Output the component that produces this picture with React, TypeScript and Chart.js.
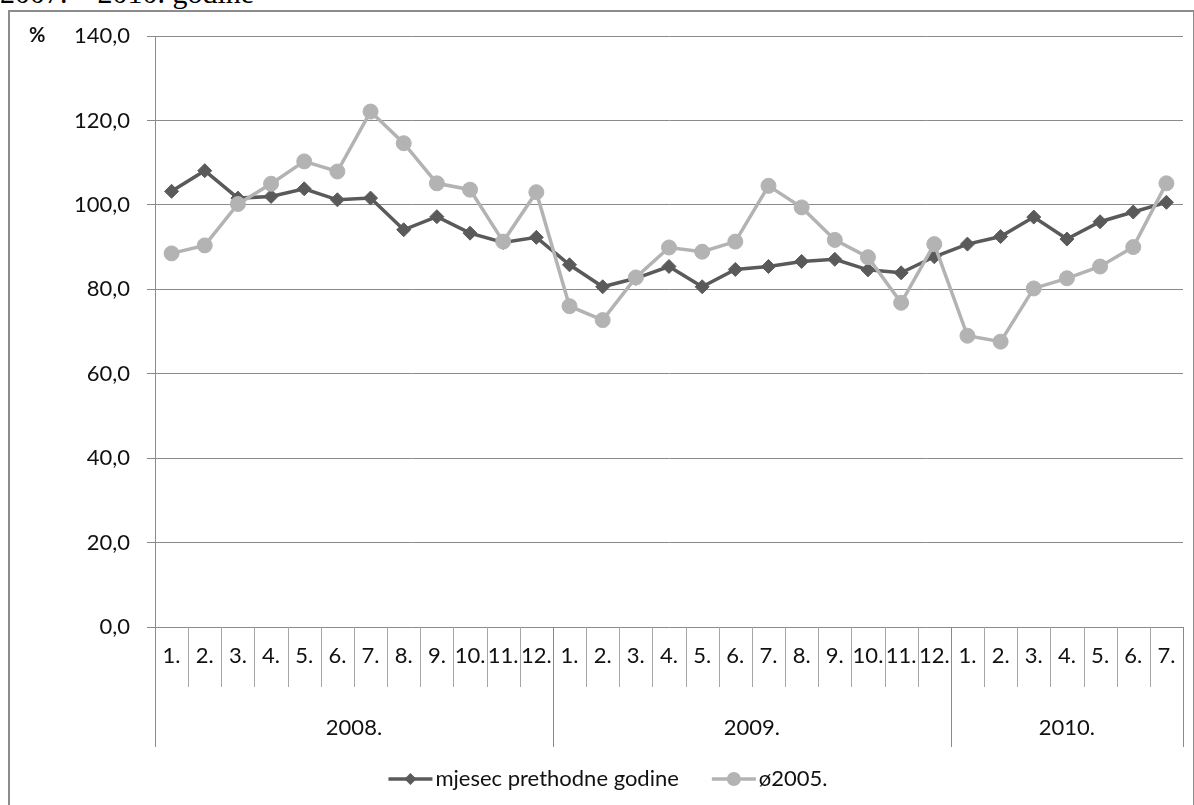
import React, { useEffect, useRef } from "react";
import { Chart, registerables } from "chart.js";

Chart.register(...registerables);

// Category axis: months grouped by year
const years = ["2008.", "2009.", "2010."];
const monthsPerYear = [12, 12, 7];
const monthLabels = [
  "1.", "2.", "3.", "4.", "5.", "6.", "7.", "8.", "9.", "10.", "11.", "12.",
  "1.", "2.", "3.", "4.", "5.", "6.", "7.", "8.", "9.", "10.", "11.", "12.",
  "1.", "2.", "3.", "4.", "5.", "6.", "7.",
];

// Series values (%)
const prevYearMonth = [
  103.2, 108.1, 101.6, 102.0, 103.8, 101.2, 101.6, 94.1, 97.2, 93.3, 91.1, 92.3,
  85.8, 80.6, 82.6, 85.4, 80.6, 84.7, 85.4, 86.6, 87.1, 84.6, 83.9, 87.7,
  90.7, 92.5, 97.1, 91.9, 96.0, 98.3, 100.6,
];
const avg2005 = [
  88.5, 90.4, 100.2, 105.0, 110.3, 107.9, 122.1, 114.6, 105.1, 103.6, 91.3, 103.0,
  76.0, 72.7, 82.8, 89.9, 88.9, 91.3, 104.5, 99.4, 91.7, 87.6, 76.8, 90.7,
  69.0, 67.6, 80.2, 82.6, 85.4, 90.0, 105.1,
];

const seriesNames = ["mjesec prethodne godine", "\u00f82005."];
const yMin = 0;
const yMax = 140;
const yStep = 20;

const FONT = "Lato, 'Open Sans', sans-serif";
const FONT_SIZE = 22;
const GRID = "#8a8a8a";
const SEP = "#a6a6a6";
const DARK = "#5a5a5a";
const LIGHT = "#b3b3b3";

const MONTH_Y = 656;
const MONTH_SEP_BOTTOM = 687;
const YEAR_Y = 728;
const YEAR_SEP_BOTTOM = 747;
const LEGEND_Y = 779;
const LEGEND_CENTER = 608;

const groupedAxisPlugin = {
  id: "groupedAxis",
  afterDraw(chart: any) {
    const { ctx, chartArea, scales } = chart;
    const x = scales.x;
    const y = scales.y;
    const n = monthLabels.length;
    const half = (x.getPixelForValue(1) - x.getPixelForValue(0)) / 2;
    const edge = (i: number) => Math.round(x.getPixelForValue(i) - half) + 0.5;
    const bottom = Math.round(chartArea.bottom);

    ctx.save();
    ctx.lineWidth = 1;

    // year boundaries
    const yearEdges = [0];
    monthsPerYear.forEach((m, i) => yearEdges.push(yearEdges[i] + m));

    // month separators
    ctx.strokeStyle = SEP;
    ctx.beginPath();
    for (let i = 1; i < n; i++) {
      if (yearEdges.includes(i)) continue;
      const px = edge(i);
      ctx.moveTo(px, bottom);
      ctx.lineTo(px, MONTH_SEP_BOTTOM);
    }
    ctx.stroke();

    // year separators (including both ends)
    ctx.strokeStyle = GRID;
    ctx.beginPath();
    yearEdges.forEach((i) => {
      const px = i === 0 ? Math.round(chartArea.left) + 0.5 : edge(i);
      ctx.moveTo(px, bottom);
      ctx.lineTo(px, YEAR_SEP_BOTTOM);
    });
    ctx.stroke();

    ctx.fillStyle = "#111";
    ctx.font = `${FONT_SIZE}px ${FONT}`;
    ctx.textAlign = "center";
    ctx.textBaseline = "middle";
    monthLabels.forEach((lbl, i) => {
      ctx.fillText(lbl, x.getPixelForValue(i), MONTH_Y);
    });
    years.forEach((yr, k) => {
      const a = x.getPixelForValue(yearEdges[k]) - half;
      const b = x.getPixelForValue(yearEdges[k + 1] - 1) + half;
      ctx.fillText(yr, (a + b) / 2, YEAR_Y);
    });

    // unit label next to the top tick
    ctx.textAlign = "left";
    ctx.font = `bold ${FONT_SIZE - 2}px ${FONT}`;
    ctx.fillText("%", 29, y.getPixelForValue(yMax));

    // legend
    ctx.font = `${FONT_SIZE}px ${FONT}`;
    const lineLen = 44;
    const gapText = 3;
    const gapItems = 33;
    const styles = chart.data.datasets;
    const widths = seriesNames.map((s) => ctx.measureText(s).width);
    const total =
      widths.reduce((s: number, w: number) => s + lineLen + gapText + w, 0) +
      gapItems * (seriesNames.length - 1);
    let cx = LEGEND_CENTER - total / 2;
    seriesNames.forEach((name, i) => {
      const ds: any = styles[i];
      ctx.strokeStyle = ds.borderColor;
      ctx.lineWidth = ds.borderWidth;
      ctx.beginPath();
      ctx.moveTo(cx, LEGEND_Y);
      ctx.lineTo(cx + lineLen, LEGEND_Y);
      ctx.stroke();
      ctx.fillStyle = ds.pointBackgroundColor;
      const mx = cx + lineLen / 2;
      ctx.beginPath();
      if (ds.pointStyle === "rectRot") {
        const r = 6;
        ctx.moveTo(mx, LEGEND_Y - r);
        ctx.lineTo(mx + r, LEGEND_Y);
        ctx.lineTo(mx, LEGEND_Y + r);
        ctx.lineTo(mx - r, LEGEND_Y);
        ctx.closePath();
      } else {
        ctx.arc(mx, LEGEND_Y, 7, 0, Math.PI * 2);
      }
      ctx.fill();
      ctx.fillStyle = "#111";
      ctx.textAlign = "left";
      ctx.fillText(name, cx + lineLen + gapText, LEGEND_Y);
      cx += lineLen + gapText + widths[i] + gapItems;
    });

    ctx.restore();
  },
};

export default function App() {
  const canvasRef = useRef<HTMLCanvasElement | null>(null);

  useEffect(() => {
    const canvas = canvasRef.current;
    if (!canvas) return;
    const chart = new Chart(canvas, {
      type: "line",
      data: {
        labels: monthLabels,
        datasets: [
          {
            label: seriesNames[0],
            data: prevYearMonth,
            borderColor: DARK,
            backgroundColor: DARK,
            borderWidth: 3.5,
            pointStyle: "rectRot",
            pointRadius: 7,
            pointBackgroundColor: DARK,
            pointBorderColor: DARK,
            pointBorderWidth: 1,
            tension: 0,
            order: 1,
          },
          {
            label: seriesNames[1],
            data: avg2005,
            borderColor: LIGHT,
            backgroundColor: LIGHT,
            borderWidth: 3.5,
            pointStyle: "circle",
            pointRadius: 7.5,
            pointBackgroundColor: LIGHT,
            pointBorderColor: LIGHT,
            pointBorderWidth: 1,
            tension: 0,
            order: 0,
          },
        ],
      },
      options: {
        responsive: false,
        animation: false,
        devicePixelRatio: 1,
        layout: { padding: { left: 0, right: 11, top: 36, bottom: 178 } },
        plugins: {
          legend: { display: false },
          tooltip: { enabled: false },
        },
        scales: {
          x: {
            type: "category",
            offset: true,
            display: false,
          },
          y: {
            min: yMin,
            max: yMax,
            afterFit: (scale: any) => {
              scale.width = 155;
            },
            ticks: {
              stepSize: yStep,
              padding: 17,
              color: "#111",
              font: { family: FONT, size: FONT_SIZE },
              callback: (v: any) => Number(v).toFixed(1).replace(".", ","),
            },
            grid: {
              color: GRID,
              lineWidth: 1,
              drawTicks: true,
              tickLength: 8,
            },
            border: { display: true, color: GRID, width: 1 },
          },
        },
      },
      plugins: [groupedAxisPlugin],
    });
    return () => chart.destroy();
  }, []);

  return (
    <div
      style={{
        position: "fixed",
        left: 0,
        top: 0,
        width: 1194,
        height: 805,
        overflow: "hidden",
        background: "#fff",
      }}
    >
      <div
        style={{
          position: "absolute",
          left: 0,
          top: -22,
          fontFamily: "'Liberation Serif', 'Times New Roman', serif",
          fontSize: 30,
          lineHeight: "30px",
          whiteSpace: "pre",
          color: "#000",
        }}
      >
        {"2007. \u2013 2010. godine"}
      </div>
      <div
        style={{
          position: "absolute",
          left: 8,
          top: 10,
          width: 1187,
          height: 900,
          boxSizing: "border-box",
          border: "2px solid #8c8c8c",
        }}
      />
      <canvas
        ref={canvasRef}
        width={1194}
        height={805}
        style={{ position: "absolute", left: 0, top: 0, display: "block" }}
      />
    </div>
  );
}
